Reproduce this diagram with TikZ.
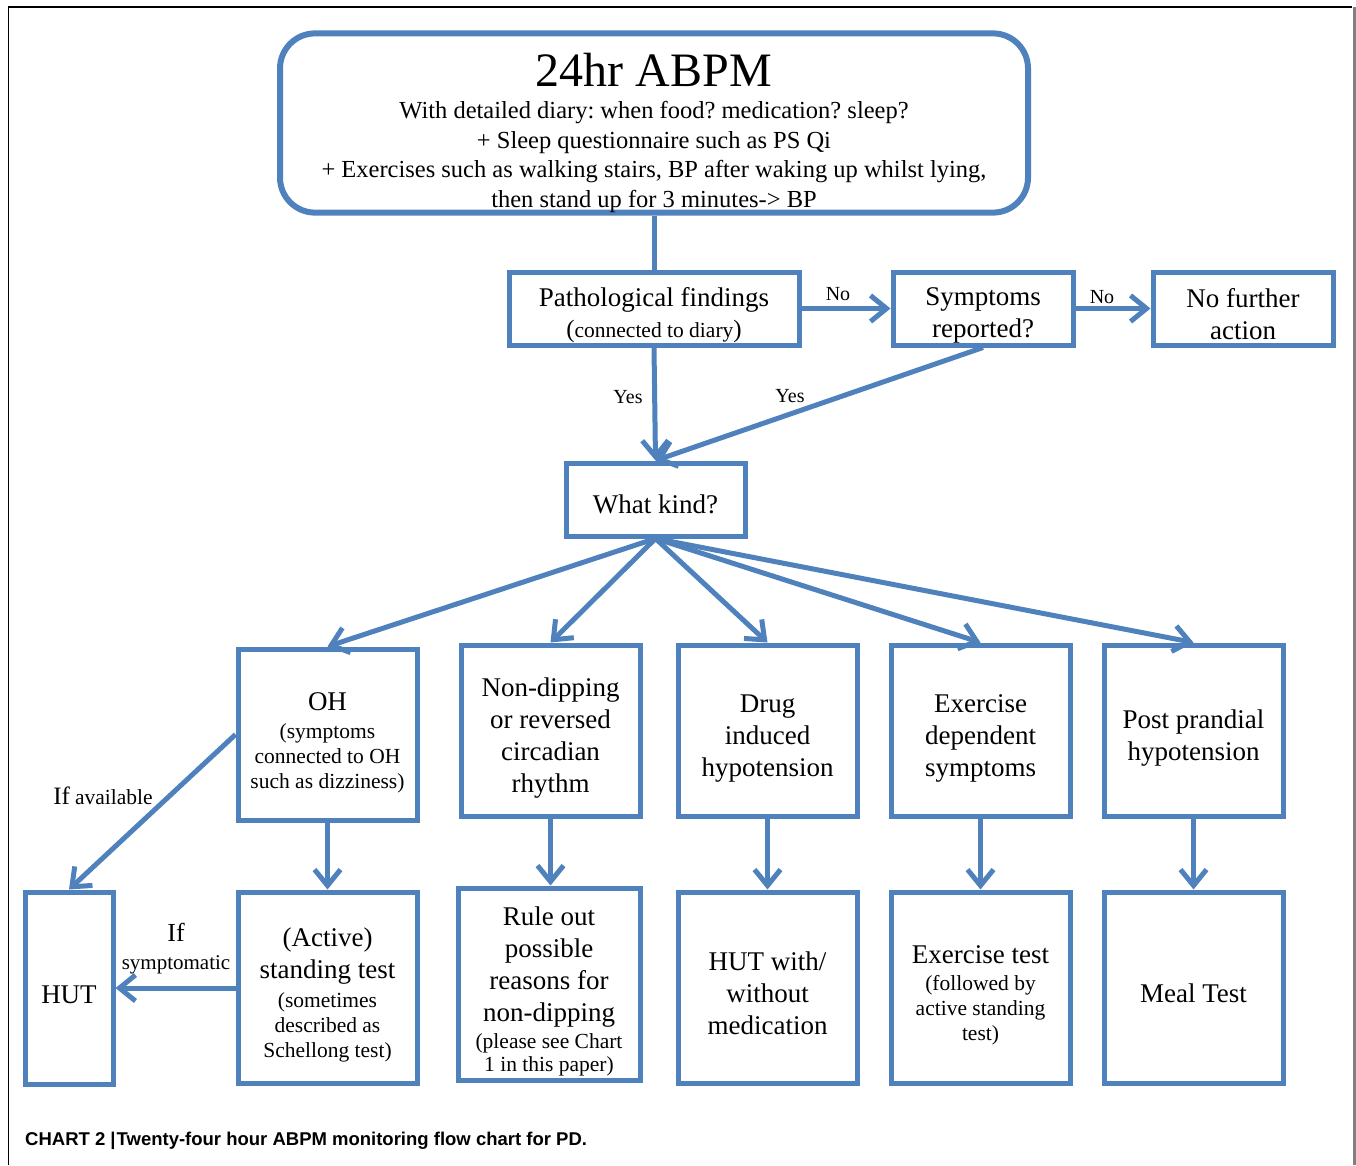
\documentclass[tikz,border=0pt]{standalone}
\usepackage{fontspec}
\setmainfont{Liberation Serif}
\newfontfamily\capfont{Liberation Sans}
\usetikzlibrary{arrows.meta}
\definecolor{bl}{HTML}{4F81BD}
\newcommand\rsp{\spaceskip=\fontdimen2\font\relax\xspaceskip=\fontdimen2\font\relax}
\newcommand\bigtx{\fontsize{27}{32}\selectfont\rsp}
\newcommand\smtx{\fontsize{21.5}{25}\selectfont\rsp}
\newcommand\toptx{\fontsize{24.5}{29.5}\selectfont\rsp}
\newcommand\dn[1]{\par\vspace*{#1pt}}
\newcommand\ed[1]{\par\vspace{-#1pt}}
\begin{document}
\begin{tikzpicture}[x=1pt,y=-1pt,
  bx/.style={draw=bl, line width=5pt, inner sep=0pt, align=center},
  arr/.style={draw=bl, line width=5pt, -{Straight Barb[length=16pt,width=26pt]}},
  lbl/.style={inner sep=0pt, font=\fontsize{20}{24}\selectfont}]
\useasboundingbox (0,0) rectangle (1356,1165);
% frame
\draw[black, line width=1.2pt] (8,7) -- (1352,7);
\draw[black, line width=1pt] (8,7) -- (8,1165);
\draw[gray, line width=3pt] (1354,7) -- (1354,1165);

% top box
\node[bx, rounded corners=35pt, line width=6pt, minimum width=748pt, minimum height=176pt, text width=740pt] (top) at (654,123)
 {\dn{1}{\fontsize{48}{52}\selectfont\rsp 24hr ABPM\par}\vspace{3pt}%
  {\toptx With detailed diary: when food? medication? sleep?\\
  + Sleep questionnaire such as PS Qi\\
  + Exercises such as walking stairs, BP after waking up whilst lying,\\
  then stand up for 3 minutes-> BP\par}\ed{9}};

% row 2
\node[bx, minimum width=290pt, minimum height=73pt, text width=285pt] (path) at (654,308.5)
 {\dn{2}{\fontsize{27}{30}\selectfont\rsp Pathological findings\par}\vspace{6pt}%
  {\smtx {\fontsize{25}{25}\selectfont(}connected to diary{\fontsize{25}{25}\selectfont)}\par}\ed{2}};
\node[bx, minimum width=180pt, minimum height=73pt, text width=175pt] (sym) at (983,308.5)
 {\dn{-1}{\bigtx Symptoms\\reported?\par}\ed{-1}};
\node[bx, minimum width=180pt, minimum height=73pt, text width=175pt] (nfa) at (1243,308.5)
 {\dn{-1}{\bigtx No further\\action\par}\ed{-1}};

% what kind
\node[bx, minimum width=179pt, minimum height=73pt, text width=175pt] (wk) at (655.5,499.5)
 {\dn{-4}{\bigtx What kind?\par}\ed{-4}};

% row 3
\node[bx, minimum width=179pt, minimum height=171pt, text width=175pt] (oh) at (327.5,734.5)
 {\dn{2}{\bigtx OH\par}\vspace{3pt}%
  {\smtx (symptoms\\connected to OH\\such as dizziness)\par}\ed{2}};
\node[bx, minimum width=179pt, minimum height=171pt, text width=175pt] (nd) at (550.5,730.5)
 {\dn{1}{\bigtx Non-dipping\\or reversed\\circadian\\rhythm\par}\ed{1}};
\node[bx, minimum width=179pt, minimum height=171pt, text width=175pt] (drug) at (767.5,730.5)
 {\dn{1}{\bigtx Drug\\induced\\hypotension\par}\ed{1}};
\node[bx, minimum width=179pt, minimum height=171pt, text width=175pt] (ex) at (980.5,730.5)
 {\dn{1}{\bigtx Exercise\\dependent\\symptoms\par}\ed{1}};
\node[bx, minimum width=179pt, minimum height=171pt, text width=175pt] (pp) at (1193.5,730.5)
 {\dn{1}{\bigtx Post prandial\\hypotension\par}\ed{1}};

% row 4
\node[bx, minimum width=88pt, minimum height=192pt, text width=84pt] (hut) at (69,988)
 {\dn{0}{\bigtx HUT\par}\ed{0}};
\node[bx, minimum width=179pt, minimum height=191pt, text width=175pt] (act) at (327.5,987.5)
 {\dn{1.5}{\bigtx (Active)\\standing test\par}\vspace{4pt}%
  {\smtx (sometimes\\described as\\Schellong test)\par}\ed{1.5}};
\node[bx, minimum width=182pt, minimum height=192pt, text width=178pt] (ro) at (549,984)
 {\dn{2.5}{\bigtx Rule out\\possible\\reasons for\\non-dipping\par}\vspace{4pt}%
  {\fontsize{21.5}{23}\selectfont\rsp (please see Chart\\1 in this paper)\par}\ed{2.5}};
\node[bx, minimum width=179pt, minimum height=191pt, text width=175pt] (hw) at (767.5,987.5)
 {\dn{-2}{\bigtx HUT with/\\without\\medication\par}\ed{-2}};
\node[bx, minimum width=179pt, minimum height=191pt, text width=175pt] (et) at (980.5,987.5)
 {\dn{1.5}{\bigtx Exercise test\par}\vspace{2pt}%
  {\smtx (followed by\\active standing\\test)\par}\ed{1.5}};
\node[bx, minimum width=179pt, minimum height=191pt, text width=175pt] (mt) at (1193.5,987.5)
 {\dn{-1}{\bigtx Meal Test\par}\ed{-1}};

% connectors
\draw[draw=bl, line width=5pt] (top.south) -- (path.north);
\draw[arr] (path.east) -- (sym.west);
\draw[arr] (sym.east) -- (nfa.west);
\draw[arr] (path.south) -- (wk.north);
\draw[arr] (sym.south) -- (wk.north);
\draw[arr] (wk.south) -- (oh.north);
\draw[arr] (wk.south) -- (nd.north);
\draw[arr] (wk.south) -- (drug.north);
\draw[arr] (wk.south) -- (ex.north);
\draw[arr] (wk.south) -- (pp.north);
\draw[arr] (oh.south) -- (act.north);
\draw[arr] (nd.south) -- (nd.south |- ro.north);
\draw[arr] (drug.south) -- (hw.north);
\draw[arr] (ex.south) -- (et.north);
\draw[arr] (pp.south) -- (mt.north);
\draw[arr] (oh.west) -- (hut.north);
\draw[arr] (act.west |- hut.east) -- (hut.east);

% labels
\node[lbl] (no1) at (838,294) {No};
\node[lbl] (no2) at (1102,297) {No};
\node[lbl] (yes1) at (628,397) {Yes};
\node[lbl] (yes2) at (790,396) {Yes};
\node[lbl] (ifav) at (103,796) {{\fontsize{25}{28}\selectfont If} {\fontsize{21.5}{26}\selectfont available}};
\node[inner sep=0pt, text width=120pt, align=center] (ifs) at (176,949)
 {{\fontsize{26}{30}\selectfont\rsp If\par}{\fontsize{21}{28}\selectfont\rsp symptomatic\par}};

% caption
\node[anchor=west, inner sep=0pt, font=\capfont\bfseries\fontsize{18.5}{22}\selectfont] (cap) at (25,1141)
 {CHART 2 |\kern1pt Twenty-four hour ABPM monitoring flow chart for PD.};
\end{tikzpicture}
\end{document}
